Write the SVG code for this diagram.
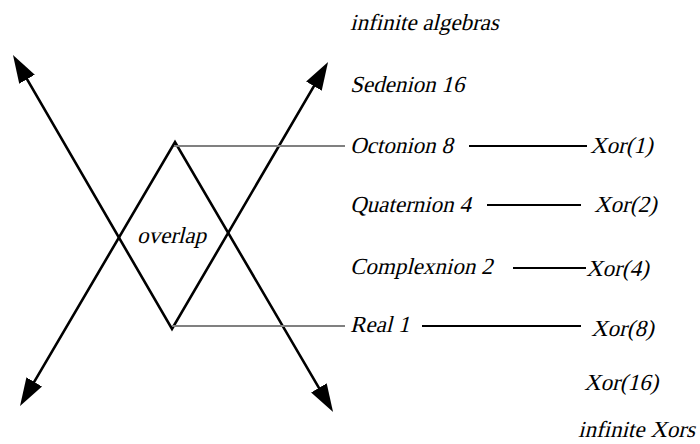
<svg xmlns="http://www.w3.org/2000/svg" width="700" height="444" viewBox="0 0 700 444">
<defs>
<style>
.t{font-family:'Liberation Serif','Times New Roman',serif;font-size:23px;fill:#000}
.arr{fill:none;stroke:#000;stroke-width:2.6;stroke-linejoin:miter}
.gray{stroke:#808080;stroke-width:2;fill:none}
.link{stroke:#000;stroke-width:2;fill:none}
</style>
<marker id="ah" markerUnits="userSpaceOnUse" viewBox="0 0 30 20" markerWidth="30" markerHeight="20" refX="18" refY="10" orient="auto-start-reverse">
<path d="M0,1 L28,10 L0,19 Z" fill="#000"/>
</marker>
</defs>
<rect width="700" height="444" fill="#fff"/>
<g id="connectors">
<polyline class="arr" points="18,63.6 172,329 323,70.6" marker-start="url(#ah)" marker-end="url(#ah)"/>
<polyline class="arr" points="25.1,397.4 175,142 328,403.4" marker-start="url(#ah)" marker-end="url(#ah)"/>
<line class="gray" x1="174" y1="146" x2="345" y2="146"/>
<line class="gray" x1="172" y1="326" x2="345" y2="326"/>
<line class="link" x1="469" y1="146" x2="587" y2="146"/>
<line class="link" x1="487" y1="205" x2="581" y2="205"/>
<line class="link" x1="513" y1="268" x2="586" y2="268"/>
<line class="link" x1="422" y1="326" x2="581" y2="326"/>
</g>
<g id="overlap"><text class="t" transform="translate(137,243) skewX(-14)">overlap</text></g>
<g id="infinite-algebras"><text class="t" transform="translate(350,30) skewX(-14)">infinite algebras</text></g>
<g id="sedenion"><text class="t" transform="translate(350,92) skewX(-14)">Sedenion 16</text></g>
<g id="octonion"><text class="t" transform="translate(350,153) skewX(-14)">Octonion 8</text></g>
<g id="quaternion"><text class="t" transform="translate(350,212) skewX(-14)">Quaternion 4</text></g>
<g id="complexnion"><text class="t" transform="translate(350,274) skewX(-14)">Complexnion 2</text></g>
<g id="real"><text class="t" transform="translate(350,332) skewX(-14)">Real 1</text></g>
<g id="xor1"><text class="t" transform="translate(590,153) skewX(-14)">Xor(1)</text></g>
<g id="xor2"><text class="t" transform="translate(594,212) skewX(-14)">Xor(2)</text></g>
<g id="xor4"><text class="t" transform="translate(586,276) skewX(-14)">Xor(4)</text></g>
<g id="xor8"><text class="t" transform="translate(591,336) skewX(-14)">Xor(8)</text></g>
<g id="xor16"><text class="t" transform="translate(584,390) skewX(-14)">Xor(16)</text></g>
<g id="infinite-xors"><text class="t" transform="translate(578,437) skewX(-14)">infinite Xors</text></g>
</svg>
